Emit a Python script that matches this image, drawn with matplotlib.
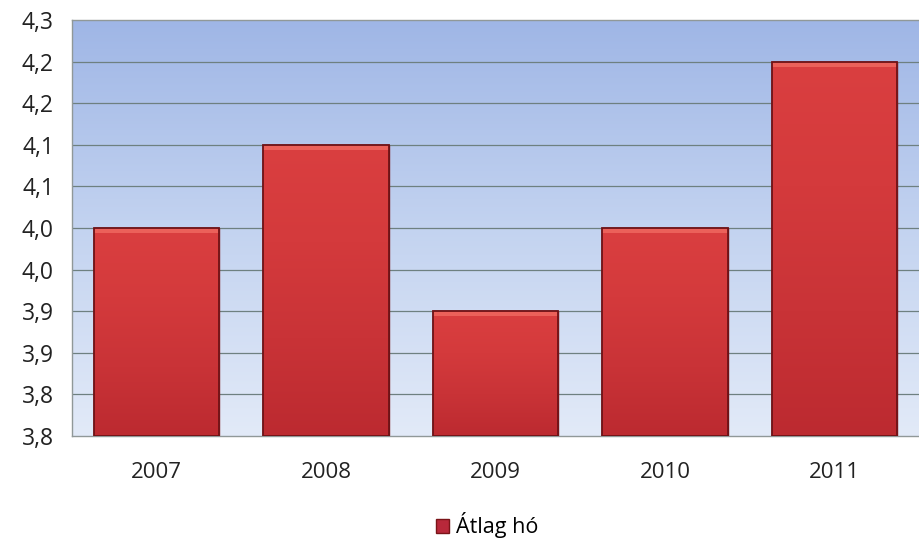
import numpy as np
import matplotlib.pyplot as plt
from matplotlib.colors import LinearSegmentedColormap

years = ['2007', '2008', '2009', '2010', '2011']
atlag_ho = [4.00, 4.10, 3.90, 4.00, 4.20]
y_ticks = [3.75, 3.80, 3.85, 3.90, 3.95, 4.00, 4.05, 4.10, 4.15, 4.20, 4.25]
y_labels = ['3,8', '3,8', '3,9', '3,9', '4,0', '4,0', '4,1', '4,1', '4,2', '4,2', '4,3']

plt.rcParams['font.family'] = ['Open Sans', 'DejaVu Sans']

fig = plt.figure(figsize=(9.19, 5.43), dpi=100)
ax = fig.add_axes([72 / 919, 107 / 543, 847 / 919, 416 / 543])

# background gradient, blue at top to pale at bottom
bg = LinearSegmentedColormap.from_list('bg', ['#e2eaf8', '#c3d3f0', '#9fb6e6'])
grad = np.linspace(0, 1, 256).reshape(-1, 1)
ax.imshow(grad, cmap=bg, aspect='auto', extent=[0, 1, 0, 1], origin='lower',
          transform=ax.transAxes, zorder=0)

ax.set_xlim(-0.5, 4.5)
ax.set_ylim(3.75, 4.25)

for t in y_ticks[1:-1]:
    ax.axhline(t, color='#6e8080', lw=0.9, zorder=1)

x = np.arange(len(years))
bars = ax.bar(x, [v - 3.75 for v in atlag_ho], bottom=3.75, width=0.74,
              color='#c8323a', edgecolor='#7a1418', lw=1.0, zorder=2)

# red gradient on each bar
red = LinearSegmentedColormap.from_list('red', ['#bc2a30', '#c93337', '#d43a3c', '#da3f40'])
for b in bars:
    x0, y0 = b.get_x(), b.get_y()
    w, h = b.get_width(), b.get_height()
    im = ax.imshow(grad, cmap=red, aspect='auto', origin='lower',
                   extent=[x0, x0 + w, y0, y0 + h], zorder=3)
    im.set_clip_path(b)
    # lighter strip on top
    ax.add_patch(plt.Rectangle((x0, y0 + h - 0.006), w, 0.006, fc='#f06a62',
                               ec='none', alpha=0.8, zorder=3.5))
    ax.add_patch(plt.Rectangle((x0, y0), w, h, fill=False,
                               edgecolor='#6e1216', lw=1.3, zorder=4))

ax.set_xticks(x)
ax.set_xticklabels(years, fontsize=16, color='#222222')
ax.set_yticks(y_ticks)
ax.set_yticklabels(y_labels, fontsize=16.5, color='#222222')
ax.tick_params(axis='both', length=0)
ax.tick_params(axis='x', pad=19)
ax.tick_params(axis='y', pad=13)

for s in ax.spines.values():
    s.set_color('#909898')
    s.set_linewidth(1.0)
ax.spines['right'].set_visible(False)

leg = ax.legend([plt.Rectangle((0, 0), 1, 1, fc='#b8283a', ec='#7a1418')], ['Átlag hó'],
                loc='center', bbox_to_anchor=(0.49, -0.215), frameon=False,
                fontsize=15.5, handlelength=0.6, handleheight=0.6, handletextpad=0.3)

plt.savefig('out.png', dpi=100)
